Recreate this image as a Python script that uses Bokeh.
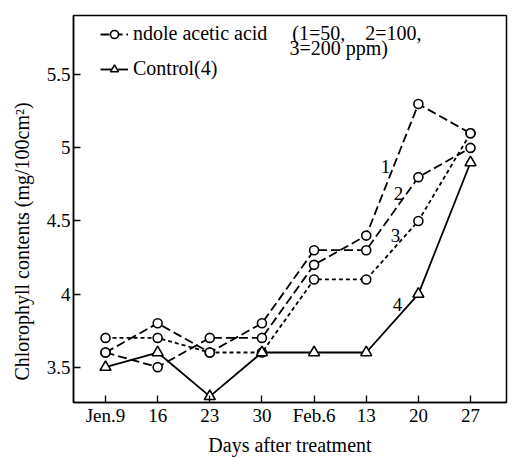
from bokeh.plotting import figure
from bokeh.models import Range1d, FixedTicker, Legend, LegendItem, Label
from bokeh.embed import file_html
from bokeh.resources import INLINE

# ---- data ----
days = ["Jen.9", "16", "23", "30", "Feb.6", "13", "20", "27"]
iaa_50 = [3.6, 3.5, 3.7, 3.7, 4.2, 4.4, 5.3, 5.1]
iaa_100 = [3.6, 3.8, 3.6, 3.8, 4.3, 4.3, 4.8, 5.0]
iaa_200 = [3.7, 3.7, 3.6, 3.6, 4.1, 4.1, 4.5, 5.1]
control = [3.5, 3.6, 3.3, 3.6, 3.6, 3.6, 4.0, 4.9]
y_ticks = [3.5, 4, 4.5, 5, 5.5]
y_tick_labels = ["3.5", "4", "4.5", "5", "5.5"]
series_names = ["1", "2", "3", "4"]

FONT = "Liberation Serif"
NBSP = "\u00a0"
x = list(range(len(days)))

p = figure(width=510, height=458, output_backend="svg", toolbar_location=None,
           x_range=Range1d(-0.614, 7.69), y_range=Range1d(3.258, 5.906),
           min_border_left=73, min_border_right=4, min_border_top=15, min_border_bottom=52)

p.xgrid.visible = False
p.ygrid.visible = False
p.outline_line_color = "black"
p.outline_line_width = 1.5
p.background_fill_color = "white"

for ax in (p.xaxis[0], p.yaxis[0]):
    ax.axis_line_width = 1.5
    ax.major_tick_in = 7
    ax.major_tick_out = 0
    ax.minor_tick_line_color = None
    ax.major_tick_line_width = 1.3
    ax.major_label_text_font = FONT
    ax.major_label_text_font_size = "19px"
    ax.major_label_text_color = "black"
    ax.axis_label_text_font = FONT
    ax.axis_label_text_font_size = "20px"
    ax.axis_label_text_font_style = "normal"
    ax.axis_label_text_color = "black"

p.xaxis.ticker = FixedTicker(ticks=x)
p.xaxis.major_label_overrides = {i: d for i, d in enumerate(days)}
p.xaxis.major_label_standoff = 2
p.xaxis.axis_label = "Days after treatment"
p.xaxis.axis_label_standoff = 5

p.yaxis.ticker = FixedTicker(ticks=y_ticks)
p.yaxis.major_label_overrides = {t: l for t, l in zip(y_ticks, y_tick_labels)}
p.yaxis.major_label_standoff = 3
# trailing no-break spaces push the title down to where the reference has it
p.yaxis.axis_label = "Chlorophyll contents (mg/100cm²)" + NBSP * 13
p.yaxis.axis_label_standoff = 11

LW = 1.8
styles = [(iaa_50, "9 4"), (iaa_100, "9 4"), (iaa_200, "4 3")]
renderers = []
for vals, dash in styles:
    l = p.line(x, vals, line_color="black", line_width=LW, line_dash=dash)
    s = p.scatter(x, vals, marker="circle", size=9, fill_color="white",
                  line_color="black", line_width=1.6)
    renderers.append((l, s))

lc = p.line(x, control, line_color="black", line_width=LW)
sc = p.scatter(x, control, marker="triangle", size=11, fill_color="white",
               line_color="black", line_width=1.6)

legend = Legend(items=[
    LegendItem(label="ndole acetic acid     (1=50,    2=100,",
               renderers=[renderers[1][0], renderers[1][1]]),
    LegendItem(label="Control(4)", renderers=[lc, sc]),
])
legend.location = (27, 322)
legend.padding = 0
legend.margin = 0
legend.spacing = 12
legend.glyph_width = 28
legend.glyph_height = 20
legend.label_height = 22
legend.label_standoff = 5
legend.label_text_font = FONT
legend.label_text_font_size = "20px"
legend.label_text_color = "black"
legend.border_line_color = None
legend.background_fill_alpha = 0
p.add_layout(legend)

p.add_layout(Label(x=216, y=355, x_units="screen", y_units="screen",
                   text="3=200 ppm)", text_font=FONT, text_font_size="20px",
                   text_color="black", text_baseline="middle"))

# series number labels
label_pos = [(5.37, 4.87), (5.62, 4.69), (5.56, 4.40), (5.60, 3.93)]
for name, (lx, ly) in zip(series_names, label_pos):
    p.add_layout(Label(x=lx, y=ly, text=name, text_font=FONT, text_font_size="19px",
                       text_color="black", text_align="center", text_baseline="middle"))

open("out.html", "w").write(file_html(p, INLINE))
